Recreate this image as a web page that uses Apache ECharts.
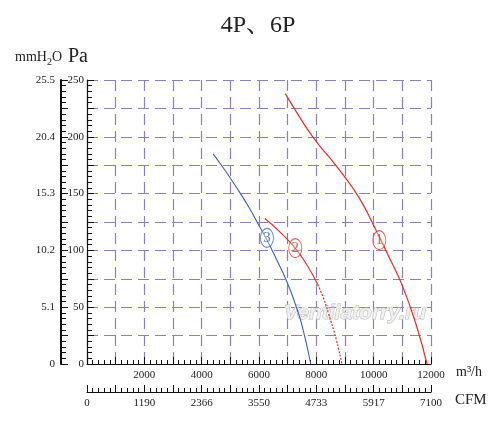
<!DOCTYPE html>
<html>
<head>
<meta charset="utf-8">
<script src="https://cdn.jsdelivr.net/npm/echarts@6/dist/echarts.min.js"></script>
<style>html,body{margin:0;padding:0;background:#fff;}#c{width:500px;height:426px;}</style>
</head>
<body>
<div id="c"></div>
<script>
// ---- data (airflow m3/h, static pressure Pa) ----
var curve1Q = [6920, 7450, 7960, 8450, 8950, 9500, 10000, 10500, 11000, 11500, 11860];
var curve1P = [238, 216, 197, 182, 166, 146, 122, 96, 69, 33, 0];
var curve2Q = [6200, 6700, 7260, 7700, 8050];
var curve2P = [128, 117, 102, 86, 70];
var curve2bQ = [8050, 8250, 8430, 8680, 8894];
var curve2bP = [70, 58, 44, 23, 0];
var curve3Q = [4400, 4800, 5200, 5600, 6000, 6300, 6650, 6980, 7250, 7500, 7806];
var curve3P = [185, 171, 156, 140, 122, 108, 90, 72, 54, 34, 0];
var labelQ = [10195, 7265, 6278];
var labelP = [109, 102, 111];
var labelText = ['1', '2', '3'];
var paLabels = ['0', '50', '100', '150', '200', '250'];
var mmLabels = ['0', '5.1', '10.2', '15.3', '20.4', '25.5'];
var m3hLabels = ['', '2000', '4000', '6000', '8000', '10000', '12000'];
var cfmLabels = ['0', '1190', '2366', '3550', '4733', '5917', '7100'];

var RED = '#d9332b', BLUE = '#3d62aa', GRID = '#8d80ba';
var SERIF = "'Liberation Serif', 'Noto Serif CJK SC', 'Noto Sans CJK SC', serif";

function pairs(xs, ys) { return xs.map(function (x, i) { return [x, ys[i]]; }); }

var chart = echarts.init(document.getElementById('c'), null, {renderer: 'canvas'});

var lblStyle = {color: '#222', fontFamily: SERIF, fontSize: 11};
function xAxisBase(offset, labels, showSplit) {
  return {
    type: 'value', position: 'bottom', offset: offset, min: 0, max: 12000, interval: 1000,
    axisLine: {show: true, onZero: false, lineStyle: {color: '#111', width: 1.2}},
    axisTick: {show: true, inside: true, length: 7, lineStyle: {color: '#111', width: 1}},
    minorTick: {show: true, splitNumber: 5, length: 4, lineStyle: {color: '#111', width: 1}},
    axisLabel: Object.assign({margin: 6, formatter: function (v) {
      return v % 2000 === 0 ? labels[v / 2000] : '';
    }}, lblStyle),
    splitLine: {show: showSplit, lineStyle: {color: GRID, type: [11, 6], width: 1.2}},
    minorSplitLine: {show: false}
  };
}
function yAxisBase(offset, labels, showSplit, margin, lw) {
  return {
    type: 'value', position: 'left', offset: offset, min: 0, max: 250, interval: 25,
    axisLine: {show: true, onZero: false, lineStyle: {color: '#111', width: lw}},
    axisTick: {show: true, inside: true, length: 7, lineStyle: {color: '#111', width: 1}},
    minorTick: {show: true, splitNumber: 5, length: 5, lineStyle: {color: '#111', width: 1}},
    axisLabel: Object.assign({margin: margin, formatter: function (v) {
      return v % 50 === 0 ? labels[v / 50] : '';
    }}, lblStyle),
    splitLine: {show: showSplit, lineStyle: {color: GRID, type: [11, 6], width: 1.2}}
  };
}

var option = {
  backgroundColor: '#fff',
  animation: false,
  grid: {left: 87, right: 69, top: 80, bottom: 62, containLabel: false},
  xAxis: [xAxisBase(0, m3hLabels, true), xAxisBase(28, cfmLabels, false)],
  yAxis: [yAxisBase(0, paLabels, true, 3, 1.2), yAxisBase(26, mmLabels, false, 6, 2)],
  series: [
    {type: 'line', name: '1', smooth: true, showSymbol: false, data: pairs(curve1Q, curve1P),
     lineStyle: {color: RED, width: 1.2}, z: 3},
    {type: 'line', name: '2', smooth: true, showSymbol: false, data: pairs(curve2Q, curve2P),
     lineStyle: {color: RED, width: 1.2}, z: 3},
    {type: 'line', name: '2b', smooth: true, showSymbol: false, data: pairs(curve2bQ, curve2bP),
     lineStyle: {color: RED, width: 1.2, type: [2, 1.5]}, z: 3},
    {type: 'line', name: '3', smooth: true, showSymbol: false, data: pairs(curve3Q, curve3P),
     lineStyle: {color: BLUE, width: 1.1}, z: 3},
    {type: 'scatter', z: 5, symbol: 'circle', symbolSize: [13, 19],
     data: labelQ.map(function (q, i) {
       var c = labelText[i] === '3' ? BLUE : RED;
       return {value: [q, labelP[i]], name: labelText[i],
         itemStyle: {color: 'rgba(255,255,255,0.4)', borderColor: c, borderWidth: 1},
         label: {show: true, position: 'inside', formatter: '{b}', color: c,
           fontFamily: SERIF, fontSize: 15}};
     })}
  ],
  graphic: [
    {type: 'text', x: 258, y: 26, style: {text: '4P\u30016P', font: '24px ' + SERIF,
      fill: '#222', textAlign: 'center', textVerticalAlign: 'middle'}},
    {type: 'text', x: 15, y: 57, style: {
      text: '{a|mmH}{b|2}{a|O}', textVerticalAlign: 'middle',
      rich: {a: {fontFamily: SERIF, fontSize: 14, fill: '#222', verticalAlign: 'bottom'},
             b: {fontFamily: SERIF, fontSize: 10, fill: '#222', verticalAlign: 'bottom', padding: [0, 0, -3, 0]}}}},
    {type: 'text', x: 68, y: 57, style: {text: 'Pa', font: '20px ' + SERIF, fill: '#222',
      textVerticalAlign: 'middle'}},
    {type: 'text', x: 456, y: 372, style: {text: 'm\u00b3/h', font: '14px ' + SERIF, fill: '#222',
      textVerticalAlign: 'middle'}},
    {type: 'text', x: 455, y: 400, style: {text: 'CFM', font: '15px ' + SERIF, fill: '#222',
      textVerticalAlign: 'middle'}},
    {type: 'text', x: 355, y: 313, z: 1, style: {text: 'Ventilatorry.ru',
      font: 'italic bold 21px "Liberation Sans", Arial, sans-serif', fill: 'rgba(240,240,240,0.9)',
      stroke: '#b8b8b8', lineWidth: 1, textAlign: 'center', textVerticalAlign: 'middle'}}
  ]
};
chart.setOption(option);
</script>
</body>
</html>
